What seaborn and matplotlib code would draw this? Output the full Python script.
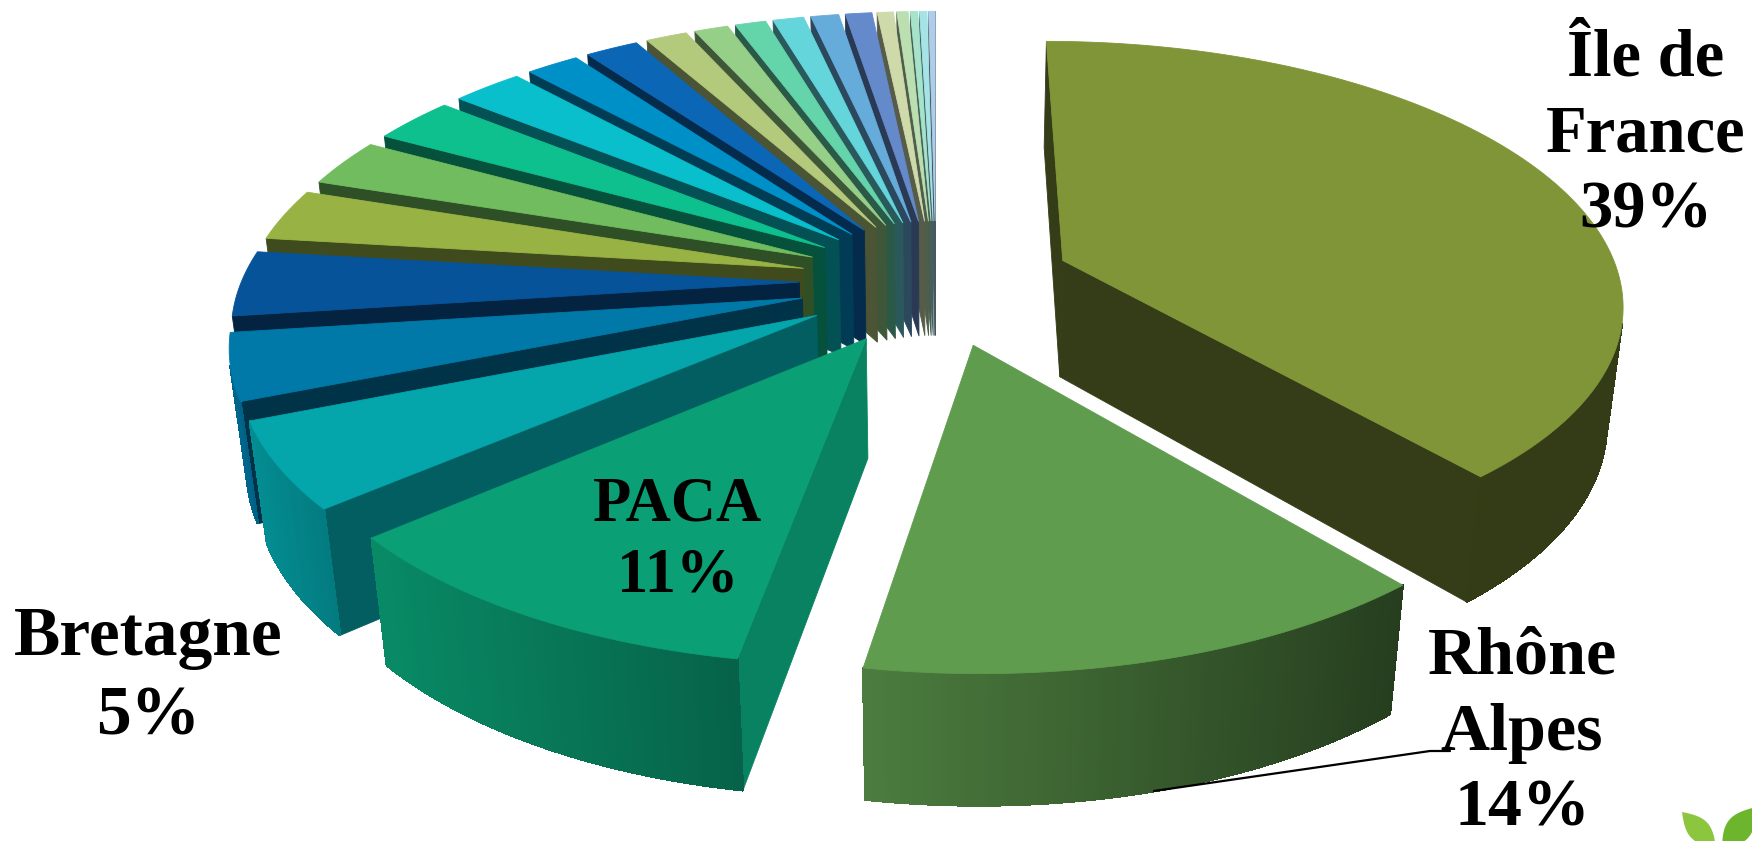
import numpy as np
import matplotlib
matplotlib.use("Agg")
import matplotlib.pyplot as plt
import seaborn as sns

# ---- data -----------------------------------------------------------------
regions = ["Île de France", "Rhône Alpes", "PACA", "Bretagne", "R5", "R6", "R7", "R8", "R9", "R10",
           "R11", "R12", "R13", "R14", "R15", "R16", "R17", "R18", "R19", "R20", "R21", "R22", "R23"]
shares = [38.67, 13.88, 10.95, 5.2, 4.0, 3.95, 3.15, 2.9, 2.8, 2.4, 1.8, 1.8,
          1.4, 1.15, 1.05, 1.05, 0.95, 0.9, 0.55, 0.38, 0.25, 0.25, 0.22]
colors = ["#809537", "#5F9C4E", "#0A9F75", "#04A5AB", "#0079A8", "#06539A",
          "#98B344", "#70BC5E", "#0DC08E", "#08BFCB", "#0090C8", "#0B67B6",
          "#B3C97C", "#96CF88", "#64D4AB", "#64D5DB", "#66ACDB", "#648ACB",
          "#CFDAAB", "#BCDFB2", "#A5E3CB", "#A5E3E7", "#AECDE8"]
label_texts = ["Île de\nFrance\n39%", "Rhône\nAlpes\n14%", "PACA\n11%", "Bretagne\n5%"]
label_xy = [(1646, 135), (1522, 733), (678, 541), (148, 678)]
label_size = [48, 49, 45, 50]

# ---- projection / style ----------------------------------------------------
CX, CY, RX, RY = 936, 282, 558, 258
PERSP, HEIGHT, EXPLODE, TAPER = 0.15, 120, 0.245, 0.024
radial_f = [0.41, 0.42, 0.82, 0.57] + [0.42] * 19
outer_left = [0.41, 0.80, 0.87, 0.85] + [0.85] * 19
outer_right = [0.40, 0.40, 0.62, 0.75] + [0.80] * 19

sns.set_theme(style="white")
plt.rcParams["font.family"] = ["Liberation Serif", "DejaVu Serif"]
palette = sns.color_palette(colors)


def project(x, y, z=0.0):
    s = 1.0 / (1.0 - PERSP * y - TAPER * z)
    return CX + RX * x * s, CY + RY * y * s - HEIGHT * z * s


def shade(c, f):
    return tuple(min(1, v * f) for v in c)


def cross(a, b, c):
    return (b[0] - a[0]) * (c[1] - b[1]) - (b[1] - a[1]) * (c[0] - b[0])


fig = plt.figure(figsize=(17.52, 8.41), dpi=100)
ax = fig.add_axes([0, 0, 1, 1])
ax.set_xlim(0, 1752)
ax.set_ylim(841, 0)
ax.axis("off")

edges = np.cumsum([0] + list(shares)) / np.sum(shares) * 2 * np.pi
mids = (edges[:-1] + edges[1:]) / 2
order = np.argsort(-np.cos(mids))

for rank, i in enumerate(order):
    c = palette[i]
    ox, oy = EXPLODE * np.sin(mids[i]), -EXPLODE * np.cos(mids[i])
    n = max(3, int((edges[i + 1] - edges[i]) / np.radians(0.5)))
    th = np.linspace(edges[i], edges[i + 1], n)
    xs, ys = ox + np.sin(th), oy - np.cos(th)
    top = np.array(project(xs, ys, 0.0))
    bot = np.array(project(xs, ys, -1.0))
    a0 = project(ox, oy, 0.0)
    a1 = project(ox, oy, -1.0)
    z = 2 + rank
    # radial walls: start edge and end edge, only when they face the viewer
    for k, sign in ((0, -1), (-1, 1)):
        t0, b0 = top[:, k], bot[:, k]
        if sign * cross(a0, t0, b0) > 0:
            ax.fill([a0[0], t0[0], b0[0], a1[0]], [a0[1], t0[1], b0[1], a1[1]],
                    color=shade(c, radial_f[i]), lw=0.6, zorder=z)
    # outer wall, with a gradient across the slice
    span = max(top[0].max() - top[0].min(), 1e-6)
    for k in range(n - 1):
        if cross(top[:, k], top[:, k + 1], bot[:, k + 1]) < 0:
            t = (top[0][k] - top[0].min()) / span
            f = outer_left[i] + (outer_right[i] - outer_left[i]) * t
            ax.fill([top[0][k], top[0][k + 1], bot[0][k + 1], bot[0][k]],
                    [top[1][k], top[1][k + 1], bot[1][k + 1], bot[1][k]],
                    color=shade(c, f), lw=1.0, antialiased=False, zorder=z)
    ax.fill(np.r_[a0[0], top[0]], np.r_[a0[1], top[1]], color=c, lw=0.6, zorder=z)

# leader line of the Rhône Alpes label
ax.plot([1154, 1430, 1450], [791, 751, 751], color="black", lw=1.6, zorder=60)
for txt, (x, y), size in zip(label_texts, label_xy, label_size):
    ax.text(x, y, txt, ha="center", va="center", fontsize=size, fontweight="bold",
            color="black", linespacing=1.31, zorder=70)

# leaves of the slide decoration, bottom right corner
t = np.linspace(0, 1, 30)
for (x0, y0, x1, y1, w, col) in [(1682, 812, 1716, 848, 11, "#8CC63F"),
                                 (1722, 850, 1756, 807, 13, "#6DB52D")]:
    dx, dy = x1 - x0, y1 - y0
    ln = np.hypot(dx, dy)
    bulge = w * np.sin(np.pi * t)
    px = x0 + dx * t
    py = y0 + dy * t
    ax.fill(np.r_[px - dy / ln * bulge, (px + dy / ln * bulge)[::-1]],
            np.r_[py + dx / ln * bulge, (py - dx / ln * bulge)[::-1]],
            color=col, lw=0, zorder=80, clip_on=True)

fig.savefig("out.png", dpi=100)
